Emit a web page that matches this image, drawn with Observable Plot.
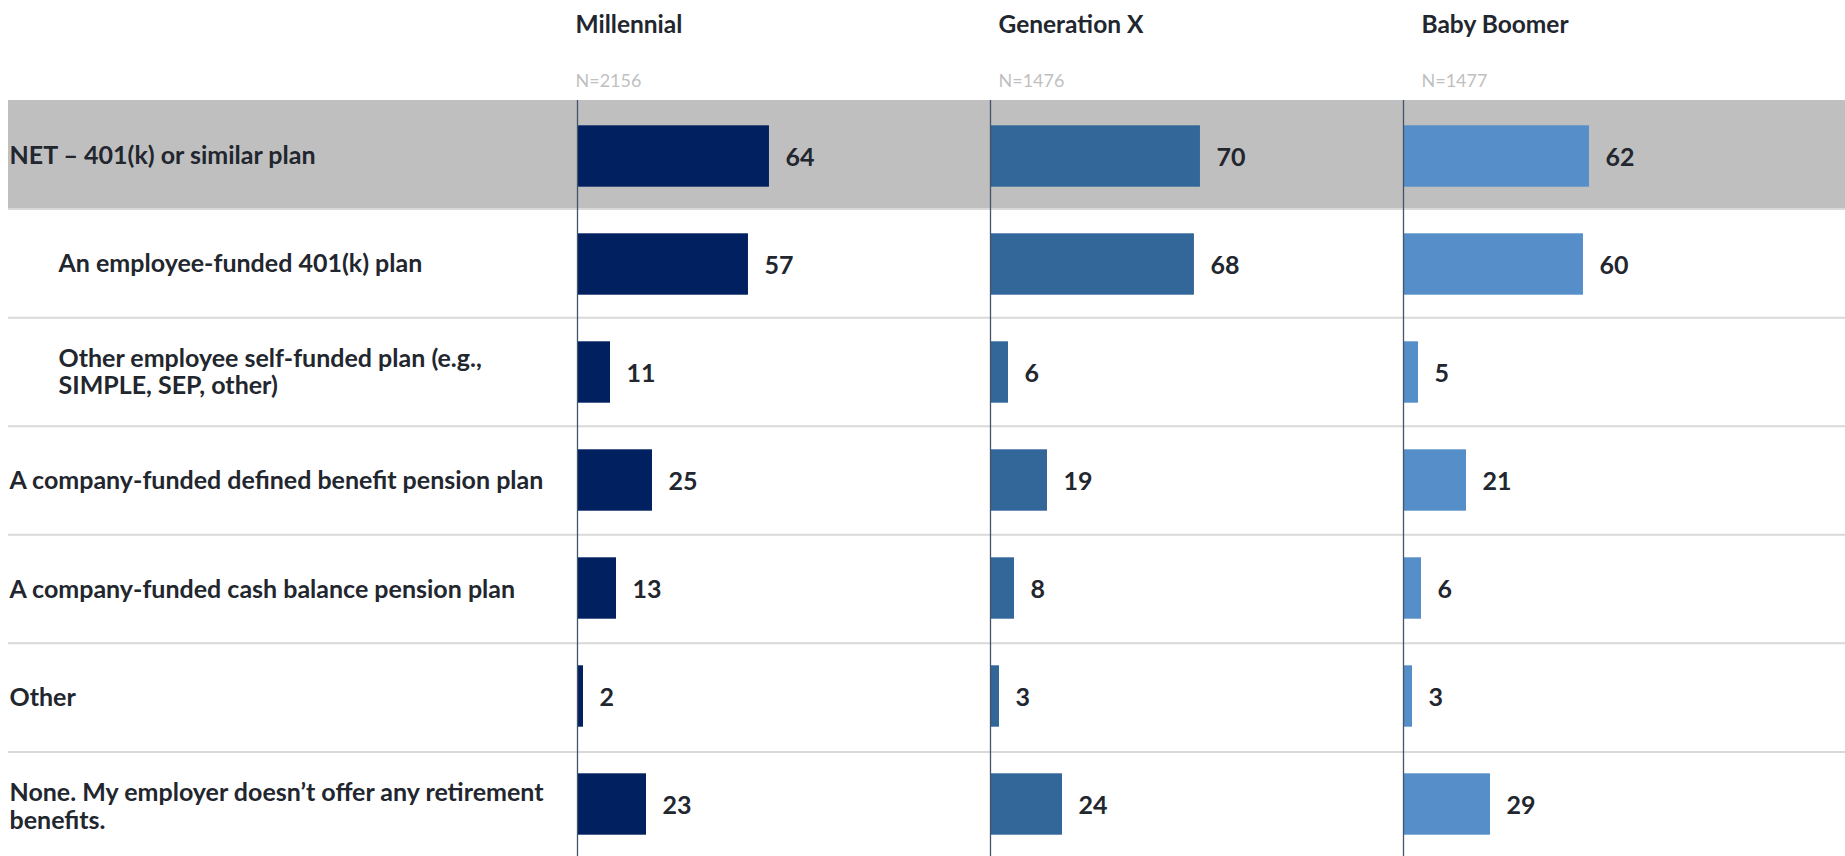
<!DOCTYPE html>
<html><head><meta charset="utf-8">
<script src="https://cdn.jsdelivr.net/npm/d3@7"></script>
<script src="https://cdn.jsdelivr.net/npm/@observablehq/plot@0.6"></script>
<style>
body{margin:0;background:#fff;}
#chart{position:relative;width:1845px;height:856px;overflow:hidden;}
#chart svg{position:absolute;left:0;top:0;}
</style></head><body><div id="chart"></div>
<script>
const categories = [
  "NET – 401(k) or similar plan",
  "An employee-funded 401(k) plan",
  "Other employee self-funded plan (e.g.,\nSIMPLE, SEP, other)",
  "A company-funded defined benefit pension plan",
  "A company-funded cash balance pension plan",
  "Other",
  "None. My employer doesn’t offer any retirement\nbenefits."
];
const netItem = "NET – 401(k) or similar plan";
const subItems = ["An employee-funded 401(k) plan", "Other employee self-funded plan (e.g.,\nSIMPLE, SEP, other)"];
const generations = ["Millennial", "Generation X", "Baby Boomer"];
const sampleSizes = ["N=2156", "N=1476", "N=1477"];
const millennial = [64, 57, 11, 25, 13, 2, 23];
const generationX = [70, 68, 6, 19, 8, 3, 24];
const babyBoomer = [62, 60, 5, 21, 6, 3, 29];
const colors = ["#002060", "#336699", "#558ec8"];

const series = [millennial, generationX, babyBoomer];
const rows = generations.flatMap((g, gi) => categories.map((c, ci) => ({generation: g, category: c, value: series[gi][ci]})));
const rowIndex = categories.map((c, i) => ({category: c, i}));
const textColor = "#22262e";
const font = "Lato, 'Open Sans', sans-serif";

const bg = Plot.plot({
  width: 1845, height: 856,
  marginTop: 100, marginBottom: -4, marginLeft: 8, marginRight: 0,
  style: {fontFamily: font, background: "transparent"},
  x: {type: "point", domain: generations, range: [575, 1421], padding: 0, axis: null},
  y: {domain: [0, categories.length], range: [100, 860], axis: null},
  marks: [
    Plot.barY(rowIndex.filter(d => d.category === netItem), {y1: d => d.i, y2: d => d.i + 1, fill: "#bfbfbf"}),
    Plot.ruleY(rowIndex.slice(1), {y: d => d.i, stroke: "#d9d9d9", strokeWidth: 2}),
    Plot.text(rowIndex.filter(d => !subItems.includes(d.category)), {
      y: d => d.i + 0.5, frameAnchor: "left", text: "category", textAnchor: "start", dx: 1,
      fontSize: 25, fontWeight: "bold", fill: textColor, lineHeight: 1.1
    }),
    Plot.text(rowIndex.filter(d => subItems.includes(d.category)), {
      y: d => d.i + 0.5, frameAnchor: "left", text: "category", textAnchor: "start", dx: 50,
      fontSize: 25, fontWeight: "bold", fill: textColor, lineHeight: 1.1
    }),
    Plot.text(generations, {x: d => d, text: d => d, frameAnchor: "top", dy: -85, textAnchor: "start",
      fontSize: 24.5, fontWeight: "bold", fill: textColor}),
    Plot.text(generations, {x: d => d, text: (d, i) => sampleSizes[i], frameAnchor: "top", dy: -26, textAnchor: "start",
      fontSize: 18, fill: "#bfbfbf"})
  ]
});

const fg = Plot.plot({
  width: 1845, height: 856,
  marginTop: 100, marginBottom: -4, marginLeft: 577, marginRight: 29,
  style: {fontFamily: font, background: "transparent"},
  facet: {data: rows, x: "generation"},
  fx: {domain: generations, padding: 0, axis: null},
  x: {domain: [0, 137.7], axis: null},
  y: {domain: categories, padding: 0, axis: null},
  color: {domain: generations, range: colors},
  marks: [
    Plot.barX(rows, {y: "category", x: "value", fill: "generation", insetTop: 23.3, insetBottom: 23.3}),
    Plot.text(rows, {y: "category", x: "value", text: d => String(d.value), textAnchor: "start", dx: 16, dy: 1,
      fontSize: 25, fontWeight: "bold", fill: textColor}),
    Plot.ruleX([0], {stroke: "#44546a", strokeWidth: 1.3})
  ]
});

document.getElementById("chart").append(bg, fg);
</script>
</body></html>
